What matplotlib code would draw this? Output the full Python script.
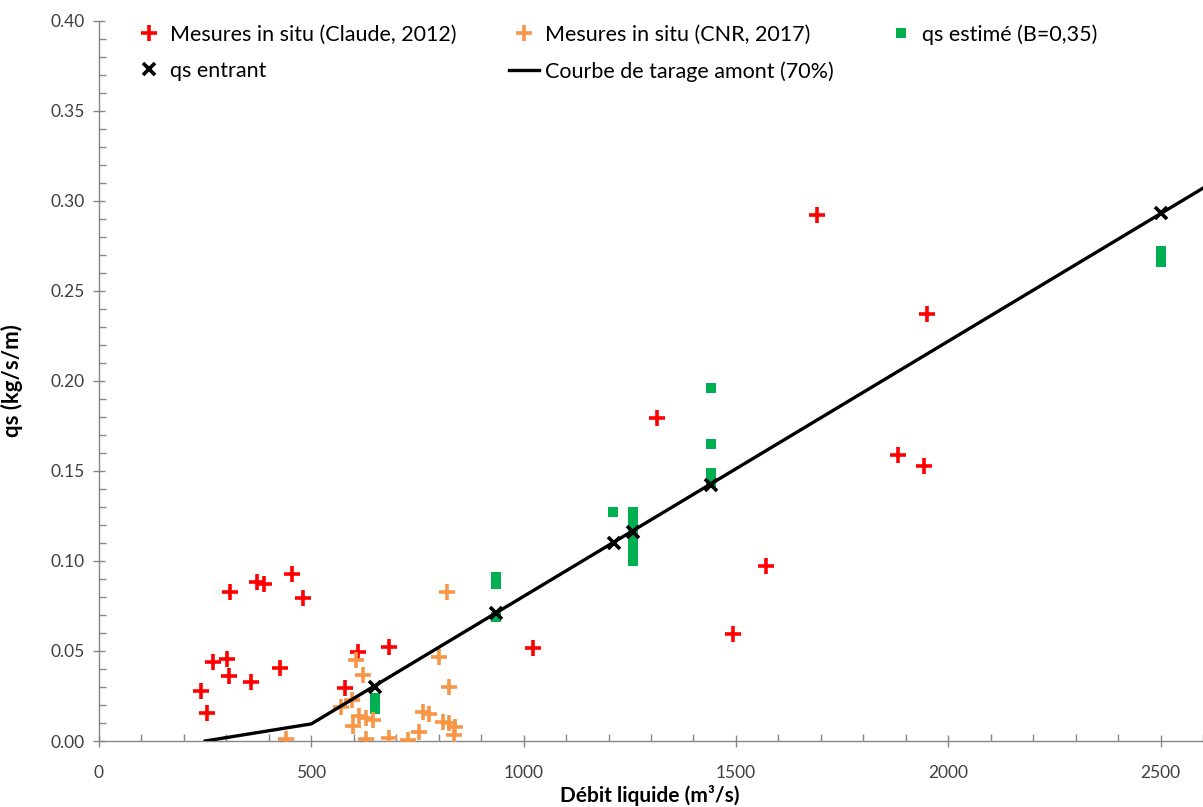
import numpy as np
import matplotlib.pyplot as plt
from matplotlib.ticker import MultipleLocator, FormatStrFormatter

plt.rcParams['font.family'] = ['Lato', 'DejaVu Sans']

# Mesures in situ (Claude, 2012)
claude_q = [240, 254, 268, 301, 306, 308, 358, 372, 388, 426, 454, 480, 579, 610,
            683, 1022, 1314, 1493, 1570, 1690, 1881, 1942, 1949]
claude_qs = [0.0278, 0.0156, 0.0439, 0.0456, 0.0361, 0.0828, 0.0328, 0.0883, 0.0872,
             0.0406, 0.0928, 0.0794, 0.0294, 0.0494, 0.0522, 0.0517, 0.1794, 0.0594,
             0.0972, 0.2922, 0.1589, 0.1528, 0.2372]

# Mesures in situ (CNR, 2017)
cnr_q = [440, 570, 596, 605, 621, 612, 629, 645, 598, 629, 683, 727, 753, 763, 777,
         800, 819, 824, 810, 824, 838, 836]
cnr_qs = [0.0011, 0.0189, 0.0228, 0.0450, 0.0367, 0.0139, 0.0128, 0.0117, 0.0083,
          0.0010, 0.0017, 0.0006, 0.0050, 0.0161, 0.0150, 0.0467, 0.0828, 0.0300,
          0.0106, 0.0100, 0.0078, 0.0033]

# qs estimé (B=0,35)
est_q = [650, 650, 650,
         935, 935, 935,
         1210,
         1257, 1257, 1257, 1257, 1257, 1257, 1257, 1257, 1257,
         1441, 1441, 1441, 1441, 1441,
         2500, 2500, 2500]
est_qs = [0.024, 0.021, 0.018,
          0.091, 0.087, 0.069,
          0.127,
          0.127, 0.124, 0.121, 0.118, 0.114, 0.110, 0.106, 0.103, 0.100,
          0.196, 0.165, 0.149, 0.146, 0.144,
          0.272, 0.269, 0.266]

# qs entrant
ent_q = [650, 935, 1212, 1257, 1441, 2500]
ent_qs = [0.030, 0.071, 0.110, 0.116, 0.142, 0.293]

# Courbe de tarage amont (70%)
courbe_q = [250, 500, 2600]
courbe_qs = [0.0, 0.0095, 0.307]

fig = plt.figure(figsize=(12.03, 8.07), dpi=100)
ax = fig.add_axes([99 / 1203, 66 / 807, 1 - 99 / 1203, (741 - 20.7) / 807])

ax.plot(claude_q, claude_qs, linestyle='none', marker='+', color='#ff0000',
        markersize=11, markeredgewidth=2.6, label='Mesures in situ (Claude, 2012)', zorder=3)
ax.plot(ent_q, ent_qs, linestyle='none', marker='x', color='black',
        markersize=9, markeredgewidth=2.6, label='qs entrant', zorder=5)
ax.plot(cnr_q, cnr_qs, linestyle='none', marker='+', color='#f79646',
        markersize=11, markeredgewidth=2.6, label='Mesures in situ (CNR, 2017)', zorder=3)
ax.plot(courbe_q, courbe_qs, color='black', linewidth=2.4,
        label='Courbe de tarage amont (70%)', zorder=4)
ax.plot(est_q, est_qs, linestyle='none', marker='s', color='#00b050',
        markersize=7.5, markeredgewidth=0, label='qs estimé (B=0,35)', zorder=2)

ax.set_xlim(0, 2600)
ax.set_ylim(0, 0.40)
ax.xaxis.set_major_locator(MultipleLocator(500))
ax.xaxis.set_minor_locator(MultipleLocator(100))
ax.yaxis.set_major_locator(MultipleLocator(0.05))
ax.yaxis.set_minor_locator(MultipleLocator(0.01))
ax.yaxis.set_major_formatter(FormatStrFormatter('%.2f'))

for side in ['top', 'right']:
    ax.spines[side].set_visible(False)
for side in ['left', 'bottom']:
    ax.spines[side].set_color('#868686')
    ax.spines[side].set_linewidth(1.0)

ax.tick_params(which='major', direction='inout', length=8, width=1, color='#868686',
               labelsize=12.5, labelcolor='#404040')
ax.tick_params(which='minor', direction='in', length=5, width=1, color='#868686')
ax.tick_params(axis='x', pad=13)
ax.tick_params(axis='y', pad=6)

ax.set_xlabel('Débit liquide (m³/s)', fontsize=15, fontweight='bold')
ax.xaxis.set_label_coords(0.499, -0.061)
ax.set_ylabel('qs (kg/s/m)', fontsize=16, fontweight='bold', labelpad=20)

ax.legend(loc='upper left', bbox_to_anchor=(0.0145, 1.022), ncol=3, frameon=False,
          fontsize=15.5, handlelength=1.4, handletextpad=0.25, columnspacing=2.45,
          labelspacing=0.75)

fig.savefig('out.png', dpi=100)
